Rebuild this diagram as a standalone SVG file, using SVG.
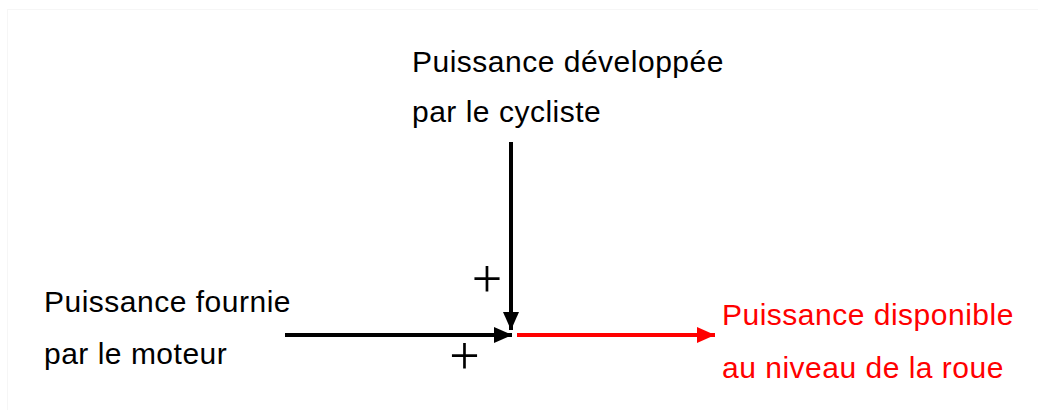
<svg xmlns="http://www.w3.org/2000/svg" width="1038" height="410" viewBox="0 0 1038 410">
<style>
.lbl{font-family:"Liberation Sans",Arial,sans-serif;font-size:30px;letter-spacing:0.5px;fill:#000}
.red{fill:#ff0000}
.plus{font-family:"Liberation Serif","Times New Roman",serif;font-size:54px;fill:#000;text-anchor:middle}
.blk{stroke:#000;stroke-width:4;fill:none}
.rl{stroke:#ff0000;stroke-width:4;fill:none}
</style>
<defs>
<marker id="ah" markerUnits="userSpaceOnUse" markerWidth="18" markerHeight="16" refX="18" refY="8" orient="auto"><path d="M0,0 L18,8 L0,16 z" fill="#000"/></marker>
<marker id="ahr" markerUnits="userSpaceOnUse" markerWidth="18" markerHeight="16" refX="18" refY="8" orient="auto"><path d="M0,0 L18,8 L0,16 z" fill="#ff0000"/></marker>
</defs>
<rect width="1038" height="410" fill="#fff"/>
<rect x="7.5" y="9.5" width="1040" height="410" fill="none" stroke="#f6f6f6" stroke-width="1"/>
<g id="cycliste">
<text class="lbl" x="412" y="72">Puissance développée</text>
<text class="lbl" x="412" y="122">par le cycliste</text>
</g>
<g id="moteur">
<text class="lbl" x="44" y="312">Puissance fournie</text>
<text class="lbl" x="44" y="364">par le moteur</text>
</g>
<g id="roue">
<text class="lbl red" x="722" y="325">Puissance disponible</text>
<text class="lbl red" x="722" y="378">au niveau de la roue</text>
</g>
<g id="signs">
<text class="plus" x="487" y="297">+</text>
<text class="plus" x="464.5" y="374">+</text>
</g>
<g id="connectors">
<line class="blk" x1="511" y1="142" x2="511" y2="330" marker-end="url(#ah)"/>
<line class="blk" x1="285" y1="335" x2="512" y2="335" marker-end="url(#ah)"/>
<line class="rl" x1="517" y1="335" x2="715" y2="335" marker-end="url(#ahr)"/>
</g>
</svg>
